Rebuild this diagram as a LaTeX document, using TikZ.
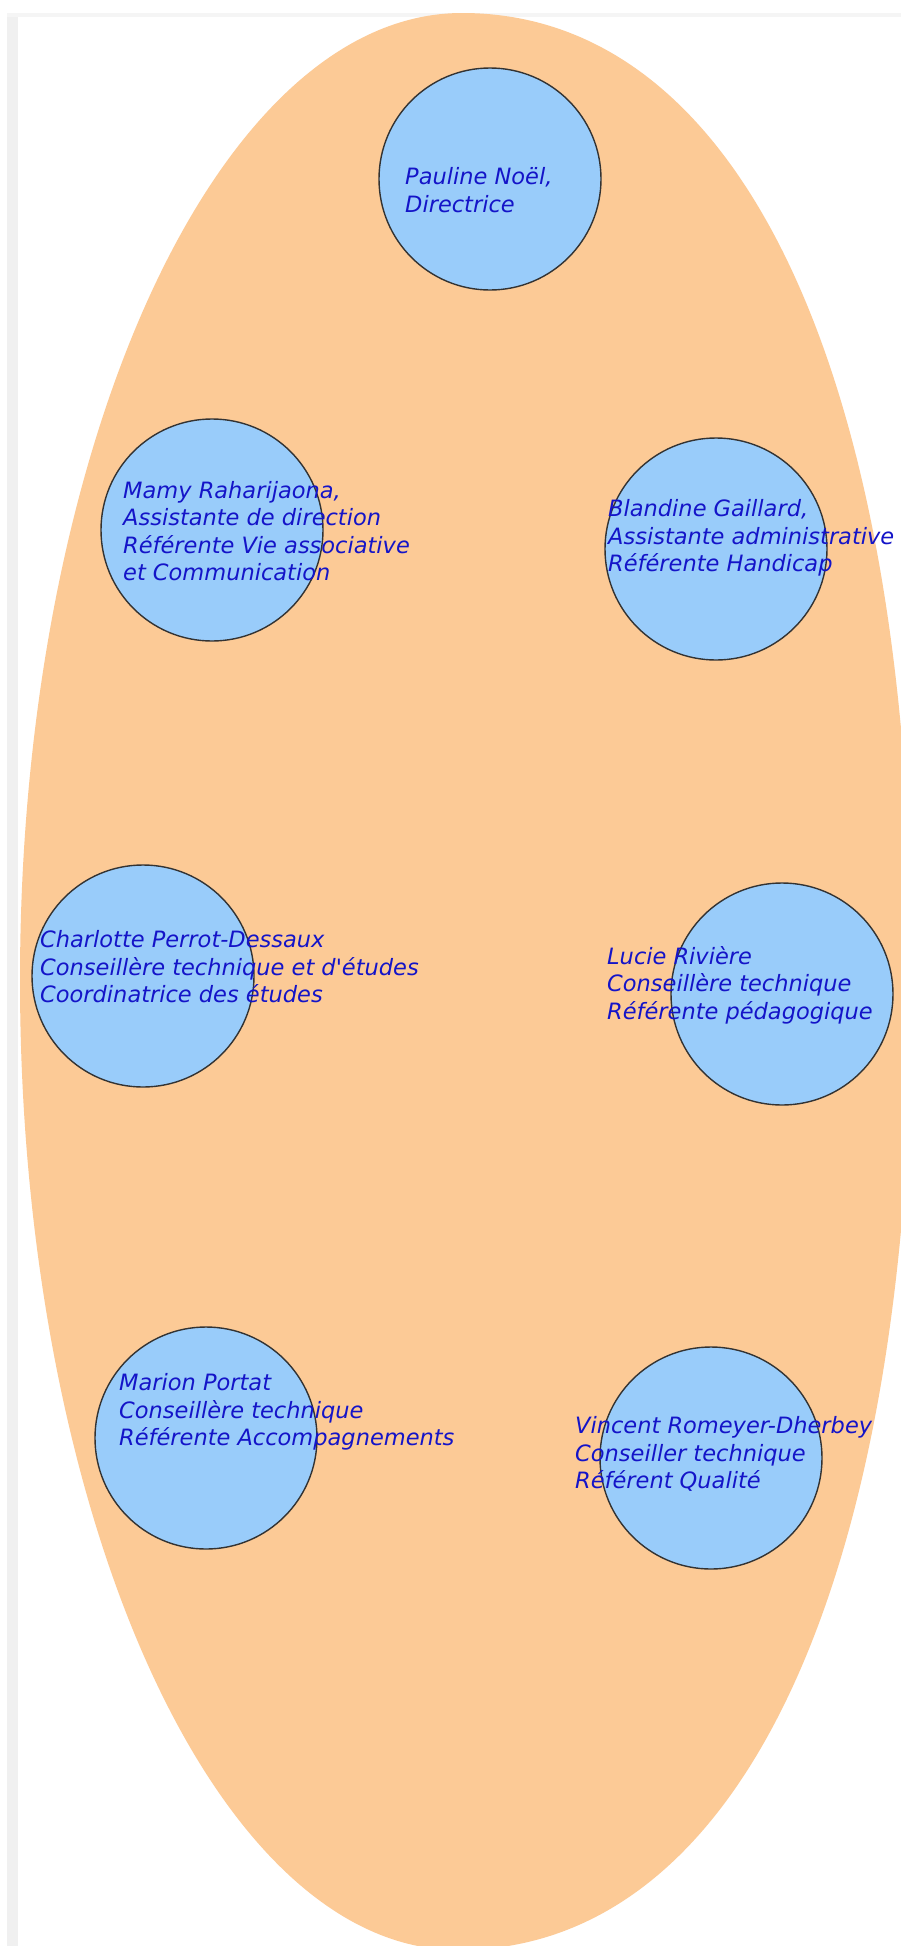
\documentclass[tikz,border=0pt]{standalone}
\usepackage{fontspec}
\newfontfamily\dejavu{DejaVu Sans}
\definecolor{peche}{RGB}{252,202,150}
\definecolor{bleuciel}{RGB}{153,204,250}
\definecolor{bleunom}{RGB}{20,20,200}
\tikzset{
    membre/.style={circle, draw=black!80, line width=1.4pt, fill=bleuciel, minimum size=222pt, inner sep=0pt},
    nom/.style={anchor=west, inner sep=0pt, align=left, text=bleunom, font=\dejavu\itshape\fontsize{22.5}{27.5}\selectfont}
}
\begin{document}
\begin{tikzpicture}[x=1pt,y=-1pt]
    \useasboundingbox (0,0) rectangle (901,1946);
    \fill[white] (0,0) rectangle (901,1946);
    \fill[black!6] (7,13) rectangle (18,1946);
    \fill[black!4] (7,13) rectangle (901,17);
    % the oval, a bit fuller on the right
    \fill[peche] (462,13) .. controls (743,13) and (912,380) .. (912,980)
        .. controls (912,1580) and (741,1950) .. (458,1950)
        .. controls (216,1950) and (20,1515) .. (20,980)
        .. controls (20,446) and (218,13) .. (462,13) -- cycle;
    \foreach \qui/\cx/\cy in {directrice/490/179, mamy/212/530, blandine/716/549, charlotte/143/976, lucie/782/994, marion/206/1438, vincent/711/1458}
        \node[membre] (\qui) at (\cx,\cy) {};
    \node[nom] (t-directrice) at (405,190) {Pauline Noël,\\Directrice};
    \node[nom] (t-mamy) at (123,531) {Mamy Raharijaona,\\Assistante de direction\\Référente Vie associative\\et Communication};
    \node[nom] (t-blandine) at (608,538) {Blandine Gaillard,\\Assistante administrative\\Référente Handicap};
    \node[nom] (t-charlotte) at (40,967) {Charlotte Perrot-Dessaux\\Conseillère technique et d'études\\Coordinatrice des études};
    \node[nom] (t-lucie) at (607,985) {Lucie Rivière\\Conseillère technique\\Référente pédagogique};
    \node[nom] (t-marion) at (119,1412) {Marion Portat\\Conseillère technique\\Référente Accompagnements};
    \node[nom] (t-vincent) at (575,1454) {Vincent Romeyer-Dherbey\\Conseiller technique\\Référent Qualité};
\end{tikzpicture}
\end{document}
